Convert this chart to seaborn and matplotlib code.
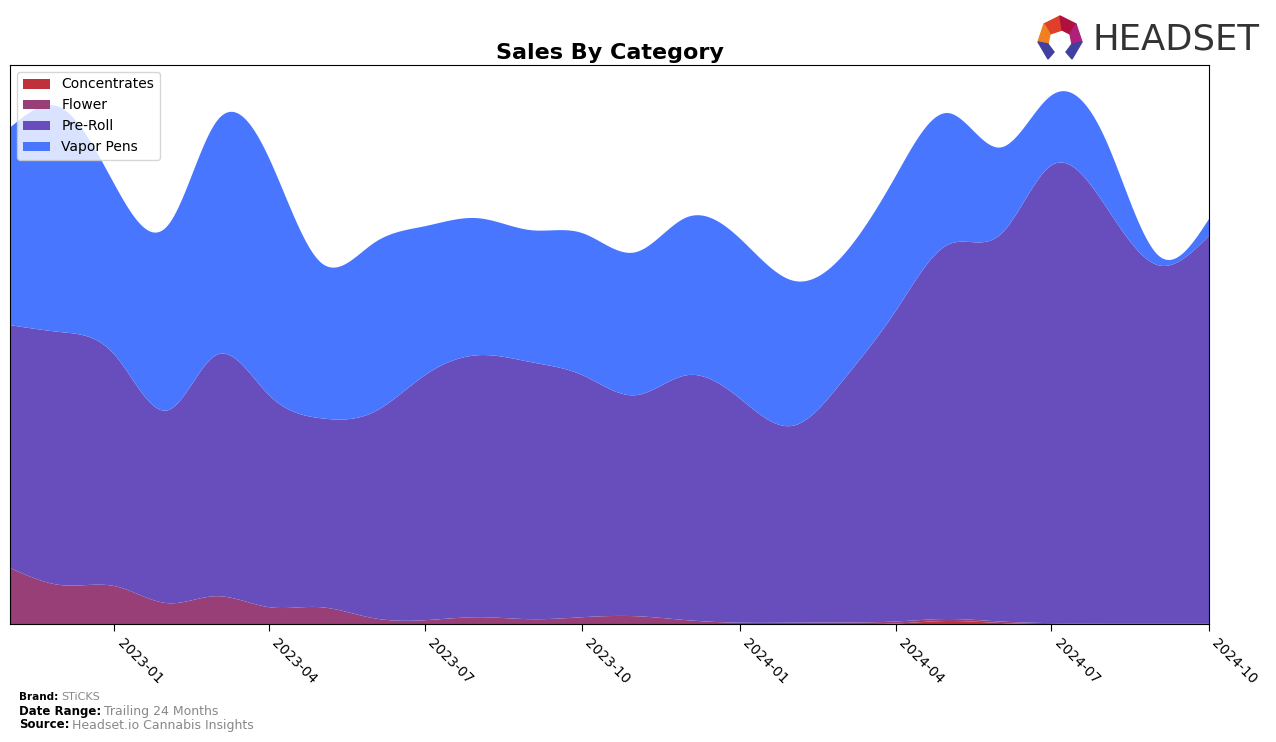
import numpy as np
import pandas as pd
import matplotlib
matplotlib.use('Agg')
import matplotlib.pyplot as plt
import matplotlib.dates as mdates
import seaborn as sns
from matplotlib.patches import Polygon

# monthly values (relative units)
months = pd.date_range('2022-11-01', periods=24, freq='MS')
categories = ['Concentrates', 'Flower', 'Pre-Roll', 'Vapor Pens']
concentrates = [0.3, 0.3, 0.3, 0.3, 0.3, 0.3, 0.3, 0.3, 0.3, 0.3, 0.3, 0.3,
                0.3, 0.3, 0.3, 0.3, 0.5, 1.0, 3.5, 1.5, 0.4, 0.3, 0.3, 0.3]
flower = [56, 39, 38, 21, 28, 17, 17, 6, 4, 7, 5, 7,
          8, 4, 1.5, 1.5, 1.5, 2, 2, 1.5, 1, 1, 1, 1]
pre_roll = [243, 253, 231, 193, 241, 212, 189, 206, 245, 262, 257, 242,
            221, 245, 224, 197, 242, 311, 374, 387, 458, 418, 358, 388]
vapor_pens = [198, 224, 170, 185, 233, 237, 156, 169, 149, 137, 132, 142,
              143, 158, 160, 145, 125, 135, 132, 87, 70, 67, 10, 17]
colors = ['#C0323A', '#983F78', '#684EBD', '#4876FF']


def natural_spline(x, y, xs):
    x = np.asarray(x, float); y = np.asarray(y, float)
    n = len(x)
    h = np.diff(x)
    A = np.zeros((n, n)); b = np.zeros(n)
    A[0, 0] = 1; A[-1, -1] = 1
    for i in range(1, n - 1):
        A[i, i - 1] = h[i - 1]
        A[i, i] = 2 * (h[i - 1] + h[i])
        A[i, i + 1] = h[i]
        b[i] = 3 * ((y[i + 1] - y[i]) / h[i] - (y[i] - y[i - 1]) / h[i - 1])
    c = np.linalg.solve(A, b)
    idx = np.clip(np.searchsorted(x, xs) - 1, 0, n - 2)
    dx = xs - x[idx]
    bb = (y[idx + 1] - y[idx]) / h[idx] - h[idx] * (2 * c[idx] + c[idx + 1]) / 3
    d = (c[idx + 1] - c[idx]) / (3 * h[idx])
    return y[idx] + bb * dx + c[idx] * dx ** 2 + d * dx ** 3


sns.set_style('white')
plt.rcParams['font.family'] = ['DejaVu Sans']
plt.rcParams['text.color'] = 'black'
plt.rcParams['xtick.color'] = 'black'
plt.rcParams['axes.labelcolor'] = 'black'

fig = plt.figure(figsize=(12.76, 7.42), dpi=100)
ax = fig.add_axes([10 / 1276, 118 / 742, 1199 / 1276, 559 / 742])

x_num = mdates.date2num(months)
xs = np.linspace(x_num[0], x_num[-1], 800)
series = [concentrates, flower, pre_roll, vapor_pens]
smooth = [np.clip(natural_spline(x_num, s, xs), 0, None) for s in series]

ax.stackplot(mdates.num2date(xs), *smooth, labels=categories, colors=colors, linewidth=0)

ax.set_xlim(months[0], months[-1])
ax.set_ylim(0, 559)
ax.set_yticks([])
ax.xaxis.set_major_locator(mdates.MonthLocator(bymonth=[1, 4, 7, 10]))
ax.xaxis.set_major_formatter(mdates.DateFormatter('%Y-%m'))
ax.tick_params(axis='x', bottom=True, length=5, labelsize=10, color='black', labelcolor='black')
plt.setp(ax.get_xticklabels(), rotation=-45, ha='left')
for sp in ax.spines.values():
    sp.set_color('black')
    sp.set_linewidth(0.8)

leg = ax.legend(loc='upper left', fontsize=10, frameon=True, edgecolor='#cccccc')
for t in leg.get_texts():
    t.set_color('black')
ax.set_title('Sales By Category', fontsize=16, fontweight='bold', pad=4, color='black')

# footer
fig.canvas.draw()
renderer = fig.canvas.get_renderer()
footer = [(697, 'Brand:', 'STiCKS', 8), (712, 'Date Range:', 'Trailing 24 Months', 9),
          (725, 'Source:', 'Headset.io Cannabis Insights', 9)]
for ypx, lab, val, fs in footer:
    t = fig.text(19 / 1276, 1 - ypx / 742, lab, fontsize=fs - 0.5, fontweight='bold', va='center')
    w = t.get_window_extent(renderer).width
    fig.text((19 + w + 3) / 1276, 1 - ypx / 742, val, fontsize=fs, color='#888888', va='center')

# logo
fig.text(1092 / 1276, 1 - 39 / 742, 'HEADSET', fontsize=25.5, color='#333333', va='center',
         ha='left')
def P(pts):
    return [(px / 1276, 1 - py / 742) for px, py in pts]
logo = [
    (P([(1044, 24), (1060, 16), (1062, 30), (1050, 34)]), '#E0402A'),
    (P([(1060, 16), (1076, 24), (1070, 34), (1062, 30)]), '#B01040'),
    (P([(1076, 24), (1082, 42), (1072, 44), (1070, 34)]), '#B0207A'),
    (P([(1044, 24), (1050, 34), (1048, 44), (1038, 42)]), '#F08020'),
    (P([(1038, 42), (1048, 44), (1054, 52), (1048, 59)]), '#4040A0'),
    (P([(1082, 42), (1072, 44), (1066, 52), (1072, 59)]), '#4040A0'),
]
for pts, c in logo:
    fig.patches.append(Polygon(pts, closed=True, color=c, transform=fig.transFigure))

fig.savefig('out.png', dpi=100)
